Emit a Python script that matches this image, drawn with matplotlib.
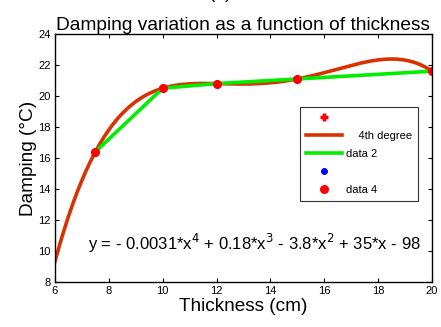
import numpy as np
import matplotlib.pyplot as plt

plt.rcParams['font.family'] = ['Liberation Sans', 'DejaVu Sans']

# measured thickness (cm) and damping values
thickness = [7.5, 10, 12, 15, 20]
damping = [16.4, 20.5, 20.8, 21.1, 21.6]

x_ticks = [6, 8, 10, 12, 14, 16, 18, 20]
y_ticks = [8, 10, 12, 14, 16, 18, 20, 22, 24]

fit_label = "y = - 0.0031*x$^4$ + 0.18*x$^3$ - 3.8*x$^2$ + 35*x - 98"


def main():
    fig = plt.figure(figsize=(4.41, 3.27), dpi=100)
    ax = fig.add_axes([55 / 441, 1 - 282 / 327, 377 / 441, 248 / 327])

    coeffs = np.polyfit(thickness, damping, 4)
    xs = np.linspace(6, 20, 300)

    ax.plot(thickness, damping, linestyle='none', marker='+', color='#ff0000',
            markersize=6, markeredgewidth=2.5, label=' ')
    ax.plot(xs, np.polyval(coeffs, xs), color='#d93200', lw=2.6, label='    4th degree')
    ax.plot(thickness, damping, color='#00ee00', lw=2.6, label='data 2')
    ax.plot(thickness, damping, linestyle='none', marker='o', color='#0000ff',
            markersize=4, label=' ')
    ax.plot(thickness, damping, linestyle='none', marker='o', color='#ff0000',
            markersize=5.5, label='data 4')

    ax.set_xlim(6, 20)
    ax.set_ylim(8, 24)
    ax.set_xticks(x_ticks)
    ax.set_yticks(y_ticks)
    ax.tick_params(direction='in', top=True, right=True, labelsize=8, length=3, pad=3)
    for sp in ax.spines.values():
        sp.set_linewidth(1.0)

    ax.set_title('Damping variation as a function of thickness', fontsize=13.8, pad=3)
    ax.set_xlabel('Thickness (cm)', fontsize=13.7, labelpad=1)
    ax.set_ylabel('Damping (°C)', fontsize=13.7, labelpad=1)
    ax.text(0.088, 0.155, fit_label, transform=ax.transAxes, fontsize=12, va='center')
    fig.text(0.5, 1.02, '(a)', ha='center', va='center', fontsize=13.8)

    leg = ax.legend(loc='upper left', bbox_to_anchor=(0.65, 0.706), fontsize=8,
                    frameon=True, fancybox=False, edgecolor='black', borderaxespad=0,
                    handlelength=3.2, handletextpad=0.4, labelspacing=0.72, borderpad=0.55)
    leg.get_frame().set_linewidth(0.8)

    fig.savefig('out.png', dpi=100)


if __name__ == "__main__":
    main()
